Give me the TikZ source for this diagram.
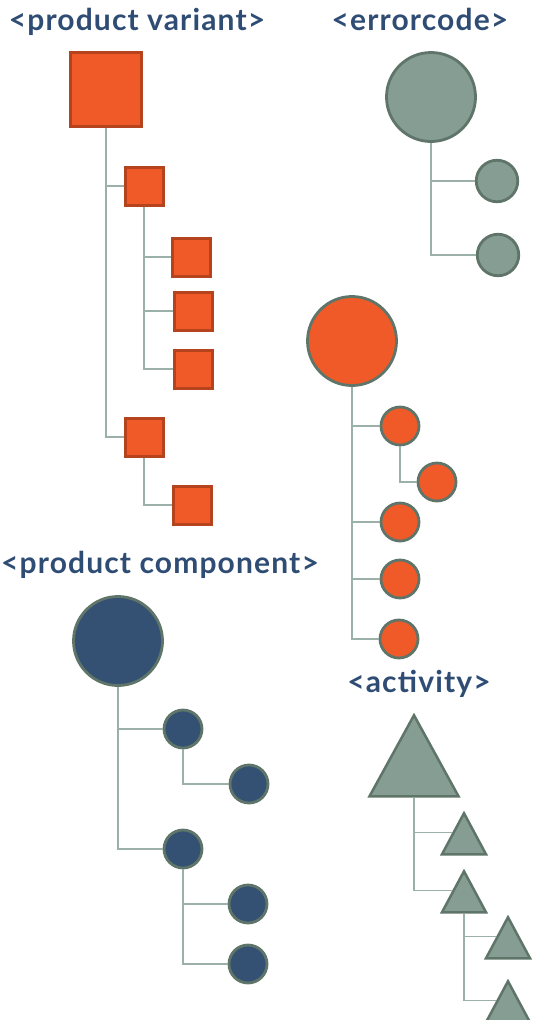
\documentclass[tikz,border=0pt]{standalone}
\usepackage{fontspec}
\setmainfont{Lato}
\newfontfamily\titlefont{Lato}[LetterSpace=3.8]
\usetikzlibrary{shapes.geometric}
\definecolor{titleblue}{HTML}{2F4D74}
\definecolor{pvorange}{HTML}{F05A28}
\definecolor{pvedge}{HTML}{B5441E}
\definecolor{sage}{HTML}{869D94}
\definecolor{sageedge}{HTML}{5F7569}
\definecolor{navy}{HTML}{345073}
\definecolor{linkgray}{HTML}{9AB0A8}
\begin{document}
\begin{tikzpicture}[x=1pt,y=-1pt,
  title/.style={font=\titlefont\bfseries\fontsize{30}{34}\selectfont, text=titleblue, anchor=base, inner sep=0pt},
  link/.style={draw=linkgray, line width=1.3pt},
  sqbig/.style={rectangle, fill=pvorange, draw=pvedge, line width=3pt, minimum width=71pt, minimum height=74pt, inner sep=0pt},
  sqsmall/.style={rectangle, fill=pvorange, draw=pvedge, line width=3pt, minimum size=38pt, inner sep=0pt},
  dotbig/.style={circle, draw=sageedge, line width=2.8pt, minimum size=89pt, inner sep=0pt},
  dotsmall/.style={circle, draw=sageedge, line width=2.8pt, minimum size=38pt, inner sep=0pt},
  tribig/.style={isosceles triangle, isosceles triangle stretches, shape border rotate=90, fill=sage, draw=sageedge, line width=2.5pt, minimum width=89pt, minimum height=81pt, inner sep=0pt},
  trismall/.style={isosceles triangle, isosceles triangle stretches, shape border rotate=90, fill=sage, draw=sageedge, line width=2.5pt, minimum width=44pt, minimum height=41pt, inner sep=0pt}]
\useasboundingbox (0,0) rectangle (535,1020);
% titles
\node[title] (tpv) at (137,30) {<product variant>};
\node[title] (tec) at (420,30) {<errorcode>};
\node[title] (tpc) at (160,573) {<product component>};
\node[title] (tac) at (419,692) {<activity>};
% product variant
\node[sqbig] (pv) at (106,89) {};
\node[sqsmall] (pva) at (144,186) {};
\node[sqsmall] (pvaa) at (191,257) {};
\node[sqsmall] (pvab) at (193,311) {};
\node[sqsmall] (pvac) at (193,369) {};
\node[sqsmall] (pvb) at (144,437) {};
\node[sqsmall] (pvba) at (192,505) {};
\draw[link] (pv.south) |- (pva.west);
\draw[link] (pv.south) |- (pvb.west);
\draw[link] (pva.south) |- (pvaa.west);
\draw[link] (pva.south) |- (pvab.west);
\draw[link] (pva.south) |- (pvac.west);
\draw[link] (pvb.south) |- (pvba.west);
% errorcode
\node[dotbig, fill=sage] (ec) at (431,97) {};
\node[dotsmall, fill=sage, minimum size=41.5pt] (eca) at (497,181) {};
\node[dotsmall, fill=sage, minimum size=41.5pt] (ecb) at (498,255) {};
\draw[link] (ec.south) |- (eca.west);
\draw[link] (ec.south) |- (ecb.west);
% orange circles
\node[dotbig, fill=pvorange] (oc) at (352,341) {};
\node[dotsmall, fill=pvorange] (oca) at (400,426) {};
\node[dotsmall, fill=pvorange] (ocaa) at (437,482) {};
\node[dotsmall, fill=pvorange] (ocb) at (400,522) {};
\node[dotsmall, fill=pvorange] (occ) at (400,579) {};
\node[dotsmall, fill=pvorange] (ocd) at (399,639) {};
\draw[link] (oc.south) |- (oca.west);
\draw[link] (oc.south) |- (ocb.west);
\draw[link] (oc.south) |- (occ.west);
\draw[link] (oc.south) |- (ocd.west);
\draw[link] (oca.south) |- (ocaa.west);
% product component
\node[dotbig, fill=navy] (pc) at (118,641) {};
\node[dotsmall, fill=navy] (pca) at (183,729) {};
\node[dotsmall, fill=navy] (pcaa) at (249,784) {};
\node[dotsmall, fill=navy] (pcb) at (183,849) {};
\node[dotsmall, fill=navy] (pcba) at (248,904) {};
\node[dotsmall, fill=navy] (pcbb) at (248,964) {};
\draw[link] (pc.south) |- (pca.west);
\draw[link] (pc.south) |- (pcb.west);
\draw[link] (pca.south) |- (pcaa.west);
\draw[link] (pcb.south) |- (pcba.west);
\draw[link] (pcb.south) |- (pcbb.west);
% activity
\node[tribig, anchor=apex] (ac) at (414,712) {};
\node[trismall, anchor=apex] (aca) at (464,810) {};
\node[trismall, anchor=apex] (acb) at (464,868) {};
\node[trismall, anchor=apex] (acba) at (508,914) {};
\node[trismall, anchor=apex] (acbb) at (508,978) {};
\draw[link] (ac.lower side) |- (aca.left side);
\draw[link] (ac.lower side) |- (acb.left side);
\draw[link] (acb.lower side) |- (acba.left side);
\draw[link] (acb.lower side) |- (acbb.left side);
\end{tikzpicture}
\end{document}
